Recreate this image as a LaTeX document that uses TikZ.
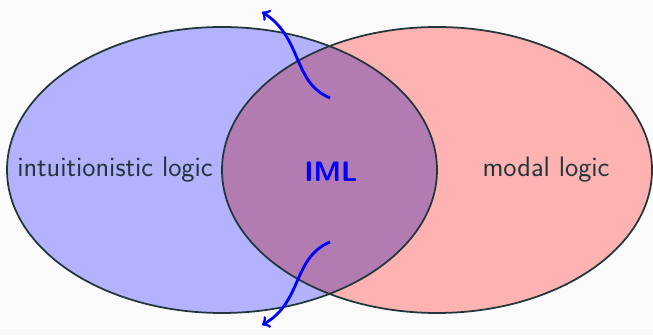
\documentclass[tikz,border=0pt]{standalone}
\usepackage{amsmath}
\usepackage{xcolor}
\usepackage{tikz}
\usetikzlibrary{arrows}
\definecolor{mDark}{HTML}{23373B}
\definecolor{mBack}{HTML}{FAFAFA}
\renewcommand{\familydefault}{\sfdefault}

\begin{document}
\begin{tikzpicture}[
        logic/.style={font=\fontsize{16}{19}\selectfont, text=mDark},
        pointer/.style={->, blue, line width=1.6pt}]
        \fill[mBack] (0,0) rectangle (13.06,6.7);
        \useasboundingbox (0,0) rectangle (13.06,6.7);
        \begin{scope}[blend group=multiply]
            \fill[blue!30] (4.44,3.3) ellipse (4.3 and 2.86);
            \fill[red!30] (8.74,3.3) ellipse (4.3 and 2.86);
        \end{scope}
        \draw[mDark, line width=1pt] (4.44,3.3) ellipse (4.3 and 2.86);
        \draw[mDark, line width=1pt] (8.74,3.3) ellipse (4.3 and 2.86);
            \node[logic] (intl) at (2.3,3.3) {intuitionistic logic};
            \node[logic] (modl) at (10.92,3.3) {modal logic};
            \node[logic, text=blue, font=\fontsize{16}{19}\selectfont\bfseries] (iml) at (6.62,3.26) {IML};
            \coordinate (up0) at (6.6,4.74);
            \coordinate (up1) at (5.24,6.46);
            \coordinate (dn0) at (6.6,1.86);
            \coordinate (dn1) at (5.24,0.2);
            \draw[pointer] (up0) .. controls (5.85,5.05) and (6.05,5.95) .. (up1);
            \draw[pointer] (dn0) .. controls (5.85,1.55) and (6.05,0.65) .. (dn1);
        \end{tikzpicture}
\end{document}
